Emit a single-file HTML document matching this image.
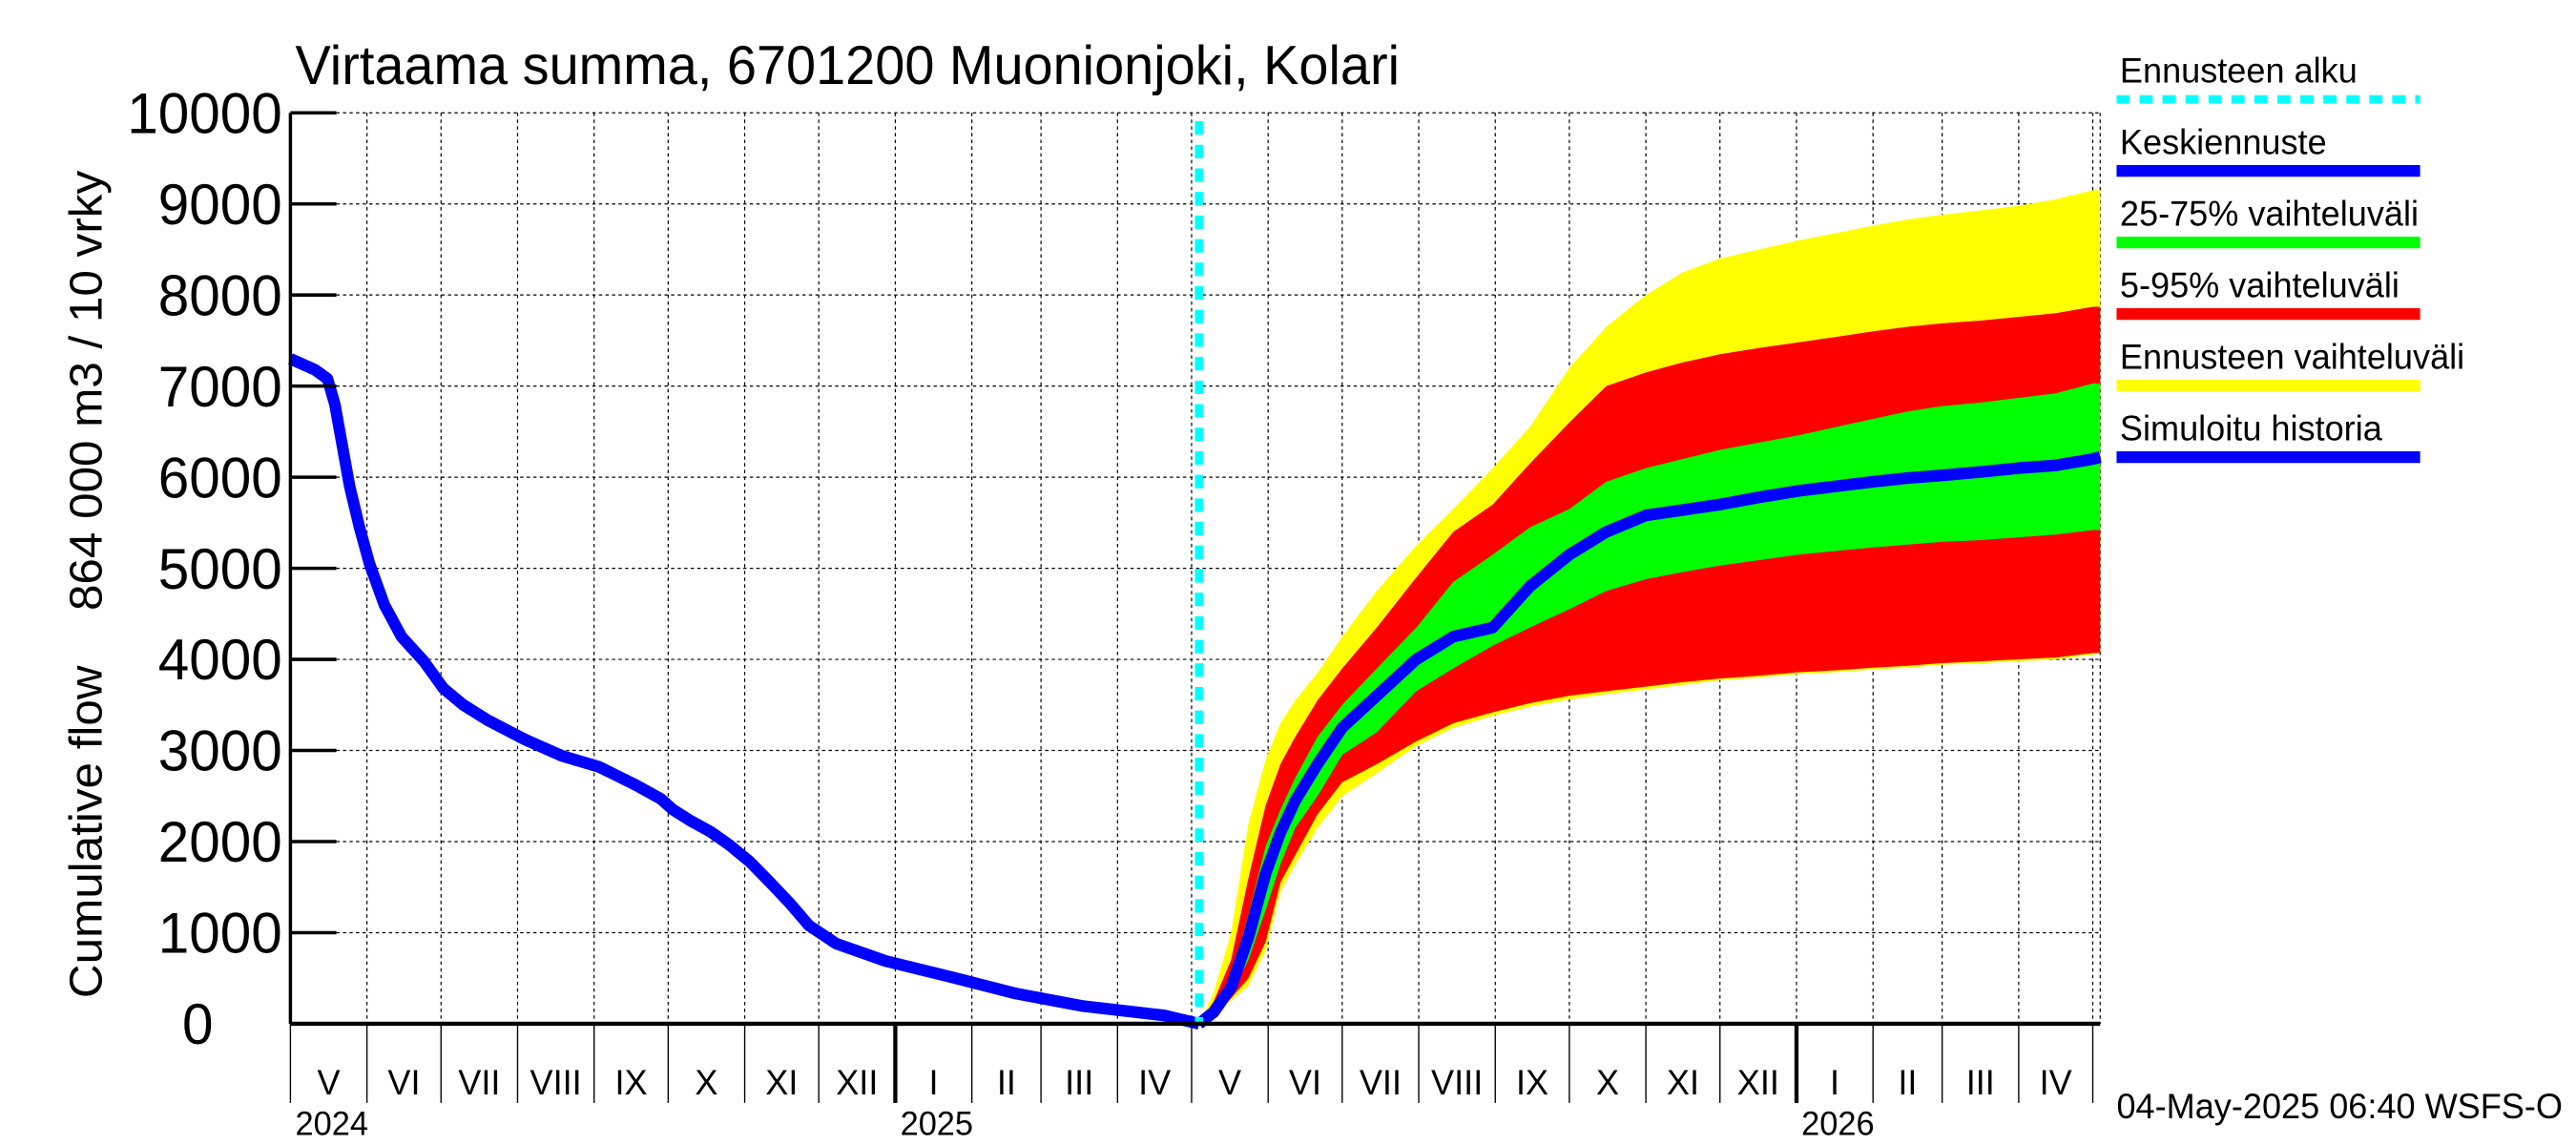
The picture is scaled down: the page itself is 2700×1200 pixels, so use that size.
<!DOCTYPE html>
<html><head><meta charset="utf-8"><style>
html,body{margin:0;padding:0;background:#fff;}
svg{display:block;font-family:"Liberation Sans",sans-serif;}
</style></head><body>
<svg id="chart" width="2700" height="1200" viewBox="0 0 1570 680" preserveAspectRatio="none" xmlns="http://www.w3.org/2000/svg">
<text x="180" y="50" font-size="32.5">Virtaama summa, 6701200 Muonionjoki, Kolari</text>
<text transform="translate(62,232) rotate(-90)" text-anchor="middle" font-size="28">864 000 m3 / 10 vrky</text>
<text transform="translate(62,494) rotate(-90)" text-anchor="middle" font-size="28">Cumulative flow</text>
<g id="grid"></g>
<g id="bands"></g>
<g id="lines"></g>
<g id="axes"></g>
<g id="legend"></g>
<text x="1290" y="664" font-size="21">04-May-2025 06:40 WSFS-O</text>
</svg>
<script>
const yTicks=[0,1000,2000,3000,4000,5000,6000,7000,8000,9000,10000];
const monthLabels=["V","VI","VII","VIII","IX","X","XI","XII","I","II","III","IV","V","VI","VII","VIII","IX","X","XI","XII","I","II","III","IV"];
const monthStartDays=[0,31,61,92,123,153,184,214,245,276,304,335,365,396,426,457,488,518,549,579,610,641,669,700,730];
const yearLabels=["2024","2025","2026"];
const yearDays=[0,245,610];
const forecastStart=368;
const histDays=[0,10,15,18,21,24,28,32,38,45,54,62,70,80,95,110,125,140,150,155,162,170,178,186,194,202,210,221,241,268,294,321,354,368];
const histVals=[7300,7180,7080,6800,6350,5900,5450,5050,4600,4250,3980,3680,3500,3330,3120,2940,2820,2620,2470,2350,2230,2110,1960,1780,1560,1330,1080,880,690,510,330,195,90,0];
const fcDays=[368,374,381,388,395,401,407,416,426,440,456,471,487,502,518,533,549,564,579,595,611,626,641,655,669,685,700,715,730,733];
const yMax=[0,350,1000,2200,2900,3300,3550,3850,4250,4750,5250,5650,6100,6550,7200,7650,8000,8250,8400,8500,8600,8680,8760,8830,8880,8930,8980,9050,9150,9150];
const r95=[0,250,700,1600,2400,2850,3150,3550,3900,4350,4900,5400,5700,6150,6600,7000,7150,7260,7350,7420,7480,7540,7600,7650,7690,7720,7760,7800,7870,7870];
const g75=[0,180,500,1200,1950,2350,2700,3150,3500,3900,4350,4850,5150,5450,5650,5950,6100,6200,6300,6380,6460,6550,6640,6720,6780,6820,6870,6920,7030,7030];
const median=[0,130,400,950,1650,2100,2450,2850,3250,3600,4000,4250,4350,4800,5150,5400,5580,5640,5700,5780,5850,5900,5950,5990,6020,6060,6100,6130,6200,6220];
const g25=[0,100,330,700,1250,1750,2150,2500,2950,3200,3650,3900,4150,4350,4550,4750,4880,4960,5030,5090,5150,5190,5230,5260,5290,5310,5340,5370,5420,5420];
const r5=[0,80,280,500,900,1550,1850,2300,2650,2850,3100,3300,3420,3520,3600,3650,3700,3750,3790,3820,3860,3880,3910,3930,3960,3980,4000,4020,4070,4070];
const yMin=[0,70,250,420,800,1450,1750,2150,2500,2750,3050,3250,3380,3480,3560,3620,3670,3720,3770,3800,3840,3860,3890,3910,3940,3960,3980,4000,4050,4070];

const X0=177,X1=1280,Y0=608,Y1=67,DMAX=733;
const xs=d=>X0+d*(X1-X0)/DMAX;
const ys=v=>Y0-v*(Y0-Y1)/10000;
const NS="http://www.w3.org/2000/svg";
function mk(tag,attrs,parent){const e=document.createElementNS(NS,tag);for(const k in attrs)e.setAttribute(k,attrs[k]);parent.appendChild(e);return e;}
const grid=document.getElementById('grid'),bands=document.getElementById('bands'),lines=document.getElementById('lines'),axes=document.getElementById('axes'),legend=document.getElementById('legend');
yTicks.forEach(v=>{if(v===0)return;const l=mk('line',{x1:X0,x2:X1,y1:ys(v),y2:ys(v),stroke:'#000','stroke-width':0.7,'stroke-dasharray':'2,2'},grid);

});
monthStartDays.forEach(d=>{if(d===0)return;const l=mk('line',{x1:xs(d),x2:xs(d),y1:Y1,y2:Y0,stroke:'#000','stroke-width':0.7,'stroke-dasharray':'2,2'},grid);

});
mk('line',{x1:X1,x2:X1,y1:Y1,y2:Y0,stroke:'#000','stroke-width':0.7,'stroke-dasharray':'2,2'},grid);
function band(up,lo,color,name){let p='';fcDays.forEach((d,i)=>{p+=(i?'L':'M')+xs(d).toFixed(1)+','+ys(up[i]).toFixed(1);});
for(let i=fcDays.length-1;i>=0;i--)p+='L'+xs(fcDays[i]).toFixed(1)+','+ys(lo[i]).toFixed(1);
const e=mk('path',{d:p+'Z',fill:color},bands);

}
band(yMax,yMin,'#ffff00','forecast-range-band');
band(r95,r5,'#ff0000','band-5-95');
band(g75,g25,'#00ff00','band-25-75');
function line(days,vals,name){let p='';days.forEach((d,i)=>{p+=(i?'L':'M')+xs(d).toFixed(1)+','+ys(vals[i]).toFixed(1);});
const e=mk('path',{d:p,fill:'none',stroke:'#0000ff','stroke-width':7,'stroke-linejoin':'round'},lines);

}
line(histDays,histVals,'simulated-history-line');
line(fcDays,median,'median-forecast-line');
const fs=mk('line',{x1:xs(forecastStart),x2:xs(forecastStart),y1:Y1+5,y2:Y0,stroke:'#00ffff','stroke-width':5,'stroke-dasharray':'8,6'},lines);


mk('line',{x1:X0,x2:X0,y1:Y1,y2:Y0,stroke:'#000','stroke-width':2},axes);
mk('line',{x1:X0,x2:X1,y1:Y0,y2:Y0,stroke:'#000','stroke-width':2.5},axes);
yTicks.forEach(v=>{mk('line',{x1:X0,x2:X0+28,y1:ys(v),y2:ys(v),stroke:'#000','stroke-width':2},axes);
const t=mk('text',{x:v===0?130:172,y:ys(v)+12,'text-anchor':'end','font-size':34},axes);t.textContent=v;

});
monthStartDays.forEach(d=>{mk('line',{x1:xs(d),x2:xs(d),y1:Y0,y2:655,stroke:'#000','stroke-width':0.8},axes);});
yearDays.forEach((d,i)=>{if(d>0)mk('line',{x1:xs(d),x2:xs(d),y1:Y0,y2:655,stroke:'#000','stroke-width':2.5},axes);
const t=mk('text',{x:xs(d)+3,y:674,'font-size':20},axes);t.textContent=yearLabels[i];

});
monthLabels.forEach((m,i)=>{const c=(xs(monthStartDays[i])+xs(monthStartDays[i+1]))/2;
const t=mk('text',{x:c,y:650,'text-anchor':'middle','font-size':21},axes);t.textContent=m;

});
const legNames=["Ennusteen alku","Keskiennuste","25-75% vaihteluväli","5-95% vaihteluväli","Ennusteen vaihteluväli","Simuloitu historia"];
const legColors=["#00ffff","#0000ff","#00ff00","#ff0000","#ffff00","#0000ff"];
legNames.forEach((n,i)=>{const y=49+i*42.5;
const t=mk('text',{x:1292,y:y,'font-size':21},legend);t.textContent=n;


const a={x1:1290,x2:1475,y1:y+10,y2:y+10,stroke:legColors[i],'stroke-width':7};
if(i===0){a['stroke-dasharray']='8,6';a['stroke-width']=5;}
const l=mk('line',a,legend);

});
</script>
</body></html>
